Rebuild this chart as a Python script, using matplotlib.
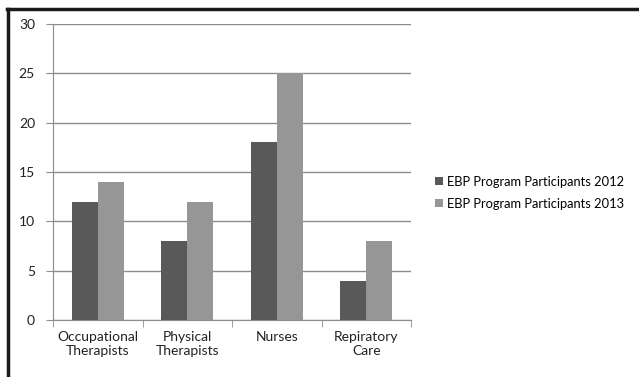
import matplotlib.pyplot as plt
import numpy as np
from matplotlib.lines import Line2D

plt.rcParams['font.family'] = ['Lato', 'DejaVu Sans']

categories = ["Occupational\nTherapists", "Physical\nTherapists", "Nurses", "Repiratory\nCare"]
participants_2012 = [12, 8, 18, 4]
participants_2013 = [14, 12, 25, 8]
series_names = ["EBP Program Participants 2012", "EBP Program Participants 2013"]

fig = plt.figure(figsize=(6.39, 3.77), dpi=100)
ax = fig.add_axes([53 / 639, 1 - 320 / 377, (411 - 53) / 639, (320 - 24) / 377])

x = np.arange(len(categories))
w = 0.29
ax.bar(x - w / 2, participants_2012, w, color="#595959", label=series_names[0], zorder=3)
ax.bar(x + w / 2, participants_2013, w, color="#969696", label=series_names[1], zorder=3)

ax.set_xlim(-0.5, 3.5)
ax.set_ylim(0, 30)
ax.set_yticks(range(0, 31, 5))
ax.yaxis.grid(True, color="#8c8c8c", linewidth=1)
ax.set_axisbelow(True)

# category labels centred, tick marks between groups
ax.set_xticks(x)
ax.set_xticklabels(categories, fontsize=10, color="#222222")
ax.tick_params(axis="x", length=0, pad=8)
ax.set_xticks(np.arange(-0.5, 4, 1), minor=True)
ax.tick_params(axis="x", which="minor", length=5, color="#8c8c8c", direction="out")
ax.tick_params(axis="y", length=5, color="#8c8c8c", labelsize=10, labelcolor="#222222", pad=8)

for side in ("top", "right"):
    ax.spines[side].set_visible(False)
for side in ("left", "bottom"):
    ax.spines[side].set_color("#8c8c8c")

ax.legend(loc="center left", bbox_to_anchor=(1.035, 0.43), frameon=False, fontsize=9.3,
          handlelength=0.6, handleheight=0.6, handletextpad=0.3, labelspacing=0.8)

# dark frame along the top and left edges
fig.add_artist(Line2D([7 / 639, 1], [1 - 9 / 377, 1 - 9 / 377], color="#1a1a1a", linewidth=2.5,
                      transform=fig.transFigure))
fig.add_artist(Line2D([7.5 / 639, 7.5 / 639], [0, 1 - 9 / 377], color="#1a1a1a", linewidth=2.5,
                      transform=fig.transFigure))

fig.savefig("out.png", dpi=100)
